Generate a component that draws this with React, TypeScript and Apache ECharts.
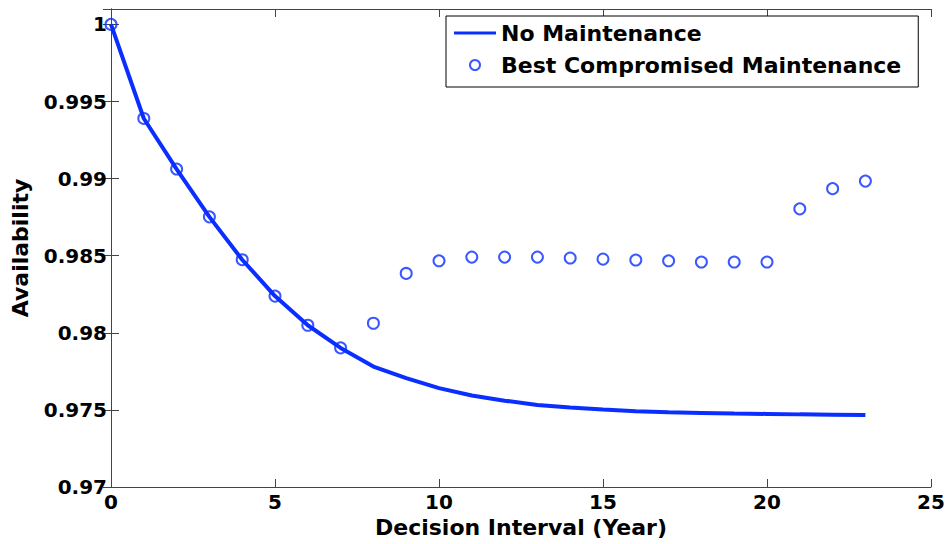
import React, { useEffect, useRef } from "react";
import * as echarts from "echarts";

// Decision interval in years
const years: number[] = [0, 1, 2, 3, 4, 5, 6, 7, 8, 9, 10, 11, 12, 13, 14, 15, 16, 17, 18, 19, 20, 21, 22, 23];

// Availability with no maintenance
const noMaintenance: number[] = [
  1.0, 0.9939, 0.99062, 0.98752, 0.98474, 0.98238, 0.98049, 0.97902, 0.97781, 0.97706,
  0.97641, 0.97593, 0.9756, 0.97532, 0.97515, 0.97502, 0.97491, 0.97484, 0.9748, 0.97476,
  0.97474, 0.97471, 0.97469, 0.97467,
];

// Availability with the best compromised maintenance
const bestCompromised: number[] = [
  1.0, 0.9939, 0.99062, 0.98752, 0.98474, 0.98238, 0.98049, 0.97902, 0.98062, 0.98385,
  0.98467, 0.98491, 0.98491, 0.98491, 0.98485, 0.98478, 0.98472, 0.98467, 0.98459, 0.98459,
  0.98459, 0.98804, 0.98935, 0.98984,
];

const yTickLabels: string[] = ["0.97", "0.975", "0.98", "0.985", "0.99", "0.995", "1"];

const BLUE = "#0a2eff";
const FONT = "DejaVu Sans";

export default function App() {
  const ref = useRef<HTMLDivElement>(null);

  useEffect(() => {
    if (!ref.current) return;
    const chart = echarts.init(ref.current, null, { renderer: "svg" });

    const yLabel = (v: number) => {
      const idx = Math.round((v - 0.97) / 0.005);
      if (Math.abs(v - (0.97 + idx * 0.005)) > 1e-7) return "";
      return yTickLabels[idx] ?? "";
    };

    const axisLine = { show: true, lineStyle: { color: "#444", width: 1 } };
    const axisTick = { show: true, inside: true, length: 8, lineStyle: { color: "#444", width: 1 } };

    chart.setOption({
      animation: false,
      backgroundColor: "#fff",
      grid: { left: 111, right: 18, top: 9, bottom: 57, show: false },
      legend: {
        left: 446,
        top: 16,
        orient: "vertical",
        backgroundColor: "#fff",
        borderColor: "#000",
        borderWidth: 1,
        padding: [5, 17, 10, 8],
        itemGap: 8,
        itemWidth: 42,
        itemHeight: 10,
        textStyle: {
          fontFamily: FONT,
          fontWeight: "bold",
          fontSize: 22,
          color: "#000",
          lineHeight: 24,
        },
        data: [
          {
            name: "No Maintenance",
            icon: "path://M0 0H42V3H0Z",
            itemStyle: { color: BLUE, borderWidth: 0 },
          },
          { name: "Best Compromised Maintenance" },
        ],
      },
      xAxis: [
        {
          type: "value",
          min: 0,
          max: 25,
          interval: 5,
          position: "bottom",
          name: "Decision Interval (Year)",
          nameLocation: "middle",
          nameGap: 29,
          nameTextStyle: { fontFamily: FONT, fontWeight: "bold", fontSize: 22, color: "#000" },
          axisLine,
          axisTick,
          splitLine: { show: false },
          axisLabel: { fontFamily: FONT, fontWeight: "bold", fontSize: 20, color: "#000", margin: 5 },
        },
        {
          type: "value",
          min: 0,
          max: 25,
          interval: 5,
          position: "top",
          axisLine,
          axisTick,
          splitLine: { show: false },
          axisLabel: { show: false },
        },
      ],
      yAxis: [
        {
          type: "value",
          min: 0.97,
          max: 1.001,
          interval: 0.005,
          position: "left",
          name: "Availability",
          nameLocation: "middle",
          nameGap: 80,
          nameTextStyle: { fontFamily: FONT, fontWeight: "bold", fontSize: 22, color: "#000" },
          axisLine,
          axisTick,
          splitLine: { show: false },
          axisLabel: {
            fontFamily: FONT,
            fontWeight: "bold",
            fontSize: 20,
            color: "#000",
            margin: 4,
            showMaxLabel: false,
            formatter: yLabel,
          },
        },
        {
          type: "value",
          min: 0.97,
          max: 1.001,
          interval: 0.005,
          position: "right",
          axisLine,
          axisTick,
          splitLine: { show: false },
          axisLabel: { show: false },
        },
      ],
      series: [
        {
          name: "No Maintenance",
          type: "line",
          data: years.map((x, i) => [x, noMaintenance[i]]),
          showSymbol: false,
          symbol: "none",
          lineStyle: { color: BLUE, width: 4 },
          itemStyle: { color: BLUE },
          z: 2,
        },
        {
          name: "Best Compromised Maintenance",
          type: "scatter",
          data: years.map((x, i) => [x, bestCompromised[i]]),
          symbol: "circle",
          symbolSize: 11,
          itemStyle: { color: "rgba(0,0,0,0)", borderColor: BLUE, borderWidth: 2 },
          z: 3,
        },
      ],
    });

    return () => chart.dispose();
  }, []);

  return <div ref={ref} style={{ width: 949, height: 544, position: "absolute", left: 0, top: 0 }} />;
}
